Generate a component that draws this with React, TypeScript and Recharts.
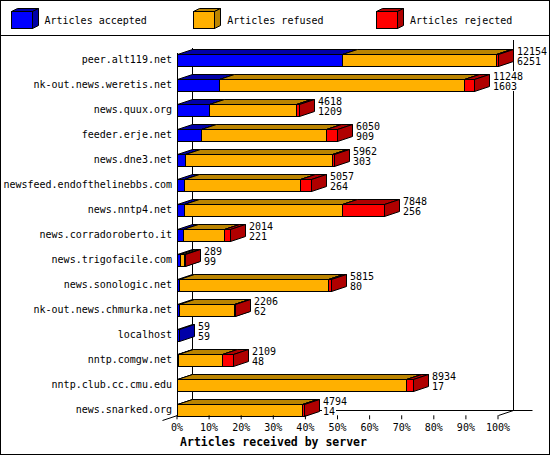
import React from 'react';
import { BarChart, Bar, XAxis, YAxis, CartesianGrid, Legend, LabelList } from 'recharts';

const servers = [
  'peer.alt119.net',
  'nk-out.news.weretis.net',
  'news.quux.org',
  'feeder.erje.net',
  'news.dne3.net',
  'newsfeed.endofthelinebbs.com',
  'news.nntp4.net',
  'news.corradoroberto.it',
  'news.trigofacile.com',
  'news.sonologic.net',
  'nk-out.news.chmurka.net',
  'localhost',
  'nntp.comgw.net',
  'nntp.club.cc.cmu.edu',
  'news.snarked.org'
];
const accepted = [6251, 1603, 1209, 909, 303, 264, 256, 221, 99, 80, 62, 59, 48, 17, 14];
const refused = [5839, 9245, 3314, 4726, 5549, 4405, 6003, 1572, 175, 5648, 2094, 0, 1665, 8641, 4720];
const rejected = [64, 400, 95, 415, 110, 388, 1589, 221, 15, 87, 50, 0, 396, 276, 60];
const xTicks = [0, 10, 20, 30, 40, 50, 60, 70, 80, 90, 100];

const FONT = '"DejaVu Sans Mono", monospace';
const DX = 15;
const DY = 5;
const SHIFT = 6.5; // bars sit at the bottom of their band

const series = [
  { key: 'accepted', name: 'Articles accepted', front: '#0000ff', dark: '#0000a8' },
  { key: 'refused', name: 'Articles refused', front: '#ffb000', dark: '#bb8400' },
  { key: 'rejected', name: 'Articles rejected', front: '#ff0000', dark: '#b00000' }
];

const totals = servers.map((_, i) => accepted[i] + refused[i] + rejected[i]);
const maxTotal = Math.max(...totals);
const pct = (v: number) => (v / maxTotal) * 100;

const rows = servers.map((server, i) => ({
  server,
  accepted: pct(accepted[i]),
  refused: pct(refused[i]),
  rejected: pct(rejected[i])
}));

const px = (v: number) => Math.round(v) + 0.5;

function makeBox(front: string, dark: string) {
  return (p: any) => {
    const { x, y, width, height } = p;
    if (!(width > 0.05)) return <g />;
    const x1 = px(x);
    const x2 = Math.max(px(x + width), x1 + 1);
    const fy = px(y + SHIFT);
    const fb = fy + Math.round(height);
    return (
      <g stroke="#000" strokeWidth={1}>
        <polygon points={`${x1},${fy} ${x1 + DX},${fy - DY} ${x2 + DX},${fy - DY} ${x2},${fy}`} fill={dark} />
        <polygon points={`${x2},${fy} ${x2 + DX},${fy - DY} ${x2 + DX},${fb - DY} ${x2},${fb}`} fill={dark} />
        <rect x={x1} y={fy} width={x2 - x1} height={fb - fy} fill={front} />
      </g>
    );
  };
}

function cube(key: string, x: number, y: number, w: number, h: number, d: number, e: number, front: string, dark: string) {
  return (
    <g key={key} stroke="#000" strokeWidth={1}>
      <polygon points={`${x},${y} ${x + d},${y - e} ${x + w + d},${y - e} ${x + w},${y}`} fill={dark} />
      <polygon points={`${x + w},${y} ${x + w + d},${y - e} ${x + w + d},${y + h - e} ${x + w},${y + h}`} fill={dark} />
      <rect x={x} y={y} width={w} height={h} fill={front} />
    </g>
  );
}

const renderLegend = (props: any) => {
  const payload = props.payload || [];
  return (
    <svg width={548} height={35} style={{ display: 'block' }}>
      {payload.map((entry: any, i: number) => {
        const s = series.find((k) => k.key === entry.dataKey) || series[i];
        const x = 9.5 + i * 182.7;
        return (
          <g key={s.key}>
            {cube(s.key, Math.round(x) + 0.5, 10.5, 21, 17, 6, 3, s.front, s.dark)}
            <text x={x + 34} y={22.5} fontSize={10} fontFamily={FONT} fill="#000">
              {entry.value}
            </text>
          </g>
        );
      })}
      <line x1={0} y1={34.5} x2={548} y2={34.5} stroke="#000" />
    </svg>
  );
};

const frameLine = (p: any) => {
  const { x1, y1, y2, x, width } = p;
  const X = px(x1);
  const top = Math.round(y1);
  const bot = px(y2);
  if (Math.abs(x1 - x) < 1) {
    return (
      <g key={p.key} stroke="#000" strokeWidth={1}>
        <line x1={X + DX} y1={top + 8} x2={X + DX} y2={bot - DY} />
        <line x1={X} y1={top + 13} x2={X} y2={bot} />
        <line x1={X} y1={bot} x2={X - DX} y2={bot + DY} />
        <line x1={X + DX} y1={bot - DY} x2={px(x + width) + DX + 19} y2={bot - DY} />
      </g>
    );
  }
  if (Math.abs(x1 - (x + width)) < 1) {
    return (
      <g key={p.key} stroke="#000" strokeWidth={1}>
        <line x1={X + DX} y1={top} x2={X + DX} y2={bot - DY} />
        <line x1={X} y1={bot} x2={X + DX} y2={bot - DY} />
      </g>
    );
  }
  return <g key={p.key} />;
};

const renderTotals = (p: any) => {
  const { x, y, width, index } = p;
  const lx = Math.round(x + width) + 19;
  const fy = Math.round(y + SHIFT) + 1;
  const t = String(totals[index]);
  const a = String(accepted[index]);
  return (
    <g key={`lbl-${index}`}>
      <rect x={lx - 1} y={fy - 9} width={t.length * 6 + 2} height={10} fill="#fff" />
      <text x={lx} y={fy} fontSize={10} fontFamily={FONT} fill="#000">{t}</text>
      <rect x={lx - 1} y={fy + 1} width={a.length * 6 + 2} height={10} fill="#fff" />
      <text x={lx} y={fy + 10} fontSize={10} fontFamily={FONT} fill="#000">{a}</text>
    </g>
  );
};

const CategoryTick = (p: any) => (
  <text x={p.x} y={p.y + SHIFT + 4} textAnchor="end" fontSize={10} fontFamily={FONT} fill="#000">
    {p.payload.value}
  </text>
);

const renderTitle = (p: any) => {
  const vb = p.viewBox || { y: 414 };
  return (
    <text x={272.5} y={vb.y + 30.5} textAnchor="middle" fontSize={11.5} fontWeight="bold" fontFamily={FONT} fill="#000">
      Articles received by server
    </text>
  );
};

export default function App() {
  return (
    <div
      style={{
        position: 'absolute',
        left: 0,
        top: 0,
        width: 550,
        height: 455,
        boxSizing: 'border-box',
        border: '1px solid #000',
        background: '#fff',
        fontFamily: FONT
      }}
    >
      <BarChart
        width={548}
        height={453}
        data={rows}
        layout="vertical"
        barSize={12}
        margin={{ top: 4.3, right: 51, bottom: 8.7, left: 0 }}
      >
        <CartesianGrid horizontal={false} vertical={frameLine} stroke="#000" fill="none" />
        <Legend
          verticalAlign="top"
          align="left"
          width={548}
          height={35}
          wrapperStyle={{ top: 0, left: 0 }}
          content={renderLegend}
        />
        <XAxis
          type="number"
          domain={[0, 100]}
          ticks={xTicks}
          interval={0}
          tickFormatter={(v) => `${v}%`}
          axisLine={false}
          tickSize={4}
          tickMargin={4.5}
          tickLine={{ stroke: '#000' }}
          tick={{ fill: '#000', fontSize: 10, fontFamily: FONT }}
          label={renderTitle}
        />
        <YAxis
          type="category"
          dataKey="server"
          width={176}
          axisLine={false}
          tickLine={false}
          tickSize={0}
          tickMargin={5}
          interval={0}
          tick={<CategoryTick />}
        />
        {series.map((s) => (
          <Bar
            key={s.key}
            dataKey={s.key}
            name={s.name}
            stackId="a"
            fill={s.front}
            shape={makeBox(s.front, s.dark)}
            isAnimationActive={false}
          >
            {s.key === 'rejected' && <LabelList dataKey="rejected" content={renderTotals} />}
          </Bar>
        ))}
      </BarChart>
    </div>
  );
}
